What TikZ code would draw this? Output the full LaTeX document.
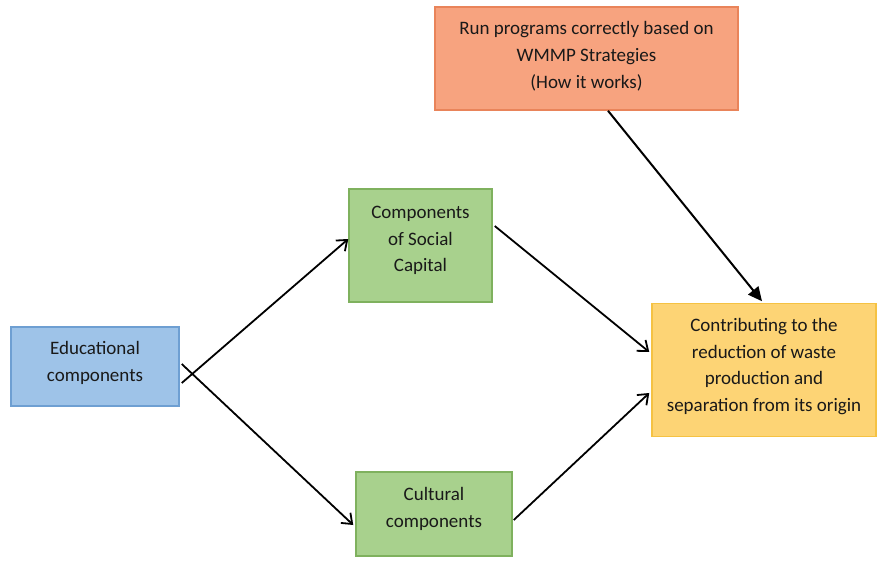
\documentclass[tikz,border=0pt]{standalone}
\usepackage{fontspec}
\setmainfont{Carlito}
\usetikzlibrary{arrows.meta}
\definecolor{orfill}{HTML}{F7A37F}
\definecolor{ordraw}{HTML}{E9845A}
\definecolor{blfill}{HTML}{9EC3E8}
\definecolor{bldraw}{HTML}{6E9FD2}
\definecolor{grfill}{HTML}{A8D18D}
\definecolor{grdraw}{HTML}{7FB15E}
\definecolor{yefill}{HTML}{FDD475}
\definecolor{yedraw}{HTML}{F5C243}
\tikzset{
  box/.style={draw, line width=1.5pt, inner sep=0pt},
  boxtext/.style={align=center, inner sep=0pt,
    font=\fontsize{19}{26.8}\selectfont, text=black!90},
  link/.style={line width=1.8pt, -{Straight Barb[length=9pt,width=14pt,line width=1.8pt]}},
  biglink/.style={line width=2pt, -{Triangle[length=14pt,width=13pt]}}
}
\begin{document}
\begin{tikzpicture}[x=1pt,y=-1pt]
\useasboundingbox (0,0) rectangle (879,561);
% boxes
\node[box, fill=orfill, draw=ordraw, minimum width=303pt, minimum height=103pt] (run) at (586.5,58.5) {};
\node[box, fill=blfill, draw=bldraw, minimum width=168pt, minimum height=79pt] (edu) at (95,366.5) {};
\node[box, fill=grfill, draw=grdraw, minimum width=143pt, minimum height=113pt] (soc) at (420.5,245.5) {};
\node[box, fill=grfill, draw=grdraw, minimum width=156pt, minimum height=84pt] (cul) at (434,514) {};
\node[box, fill=yefill, draw=yedraw, minimum width=224pt, minimum height=133pt] (res) at (764,370) {};
% box texts
\node[boxtext] (runT) at (586.5,56) {Run programs correctly based on\\WMMP Strategies\\(How it works)};
\node[boxtext] (eduT) at (95,363) {Educational\\components};
\node[boxtext] (socT) at (420.5,240.5) {Components\\of Social\\Capital};
\node[boxtext] (culT) at (434,509) {Cultural\\components};
\node[boxtext] (resT) at (764,366.5) {Contributing to the\\reduction of waste\\production and\\separation from its origin};
% connectors (the two leaving the blue box cross just past its edge)
\draw[link] ([xshift=2pt,yshift=-16.5pt]edu.east) -- ([yshift=6.5pt]soc.west);
\draw[link] ([xshift=2pt,yshift=2.5pt]edu.east) -- ([xshift=-2pt,yshift=-11pt]cul.west);
\draw[link] ([xshift=2pt,yshift=19.5pt]soc.east) -- ([xshift=-2pt,yshift=18pt]res.west);
\draw[link] ([xshift=1pt,yshift=-6pt]cul.east) -- ([xshift=-2pt,yshift=-23pt]res.west);
\draw[biglink] ([xshift=21.5pt]run.south) -- ([xshift=-2pt,yshift=1.5pt]res.north);
\end{tikzpicture}
\end{document}
